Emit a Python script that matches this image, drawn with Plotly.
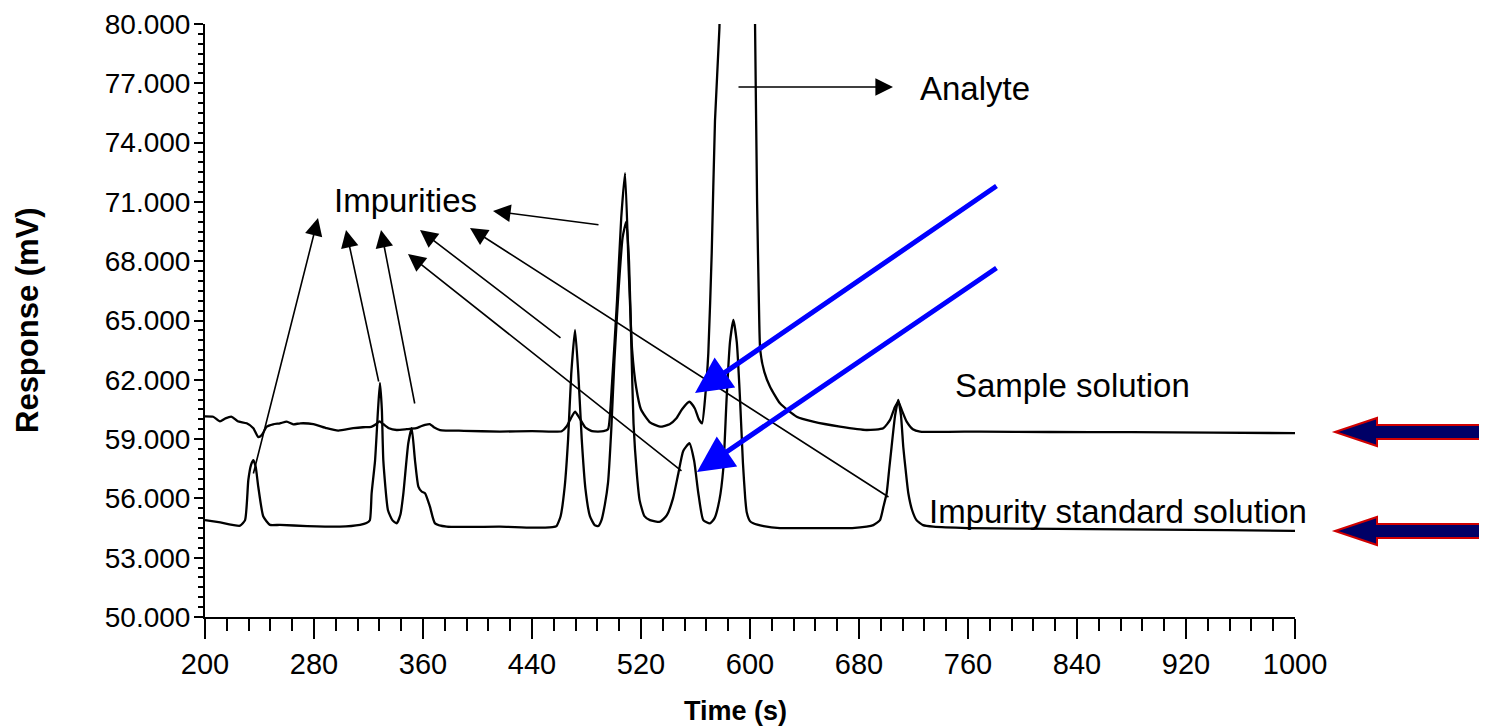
import plotly.graph_objects as go

# ---------------- data ----------------
sample_time = [200, 206, 211, 215, 219.6, 224, 230.6, 235.5, 239.1, 241.6, 245.3, 250, 255, 260, 264.8,
               270, 279.5, 289.3, 297.8, 308.8, 316, 322, 325.5, 328, 331, 335, 340.7, 348, 355, 358.5,
               361.5, 365, 368, 372.5, 390, 416.5, 440, 455, 461.8, 465.5, 468.5, 471.6, 475, 479, 484,
               488.4, 492.5, 495.8, 498.7, 502.4, 505.5, 508.3, 511, 513.5, 516.5, 520, 526.6, 534, 541,
               546, 550, 555.5, 559.5, 562.5, 564.8, 567.2, 569.4, 571.9, 574.3, 577.5, 580, 590, 600,
               603, 603.7, 605.2, 606.5, 607.5, 610.5, 614.7, 622, 634.3, 646.4, 666, 685.6, 697.8, 702.8,
               706.2, 708.8, 711.8, 715, 719.5, 724.8, 768.8, 820, 880, 940, 1000]
sample_resp = [60.15, 60.13, 59.9, 60.05, 60.13, 59.9, 59.8, 59.55, 59.1, 59.2, 59.63, 59.75, 59.8, 59.88, 59.75,
               59.8, 59.76, 59.55, 59.43, 59.55, 59.6, 59.62, 59.75, 59.9, 59.75, 59.55, 59.46, 59.5, 59.55, 59.65,
               59.72, 59.76, 59.6, 59.46, 59.42, 59.38, 59.4, 59.38, 59.4, 59.65, 60.05, 60.39, 60.05, 59.6, 59.4,
               59.38, 59.4, 59.5, 61.8, 66.0, 70.2, 72.46, 67.5, 63.5, 61.6, 60.5, 59.85, 59.63, 59.75,
               60.05, 60.5, 60.89, 60.55, 60.0, 59.8, 61.2, 63.34, 68.4, 75.1, 79.7, 86, 90, 90,
               84, 80, 71, 66, 63.5, 62.4, 61.65, 60.81, 60.13, 59.88, 59.63, 59.46, 59.55, 59.97,
               60.6, 60.9, 60.4, 59.88, 59.5, 59.38, 59.38, 59.36, 59.35, 59.33, 59.3]

impurity_time = [200, 210, 225.7, 229.4, 231.8, 233.8, 235.5, 237.2, 239.1, 242.8, 247.7, 255, 275, 299,
                 313.8, 318.5, 321, 322.3, 324.8, 327, 328.4, 329.8, 330.9, 334.3, 337.5, 340.7, 343.5,
                 345.6, 349.2, 351.7, 354.1, 356.6, 359, 361.5, 365.1, 368.8, 377.4, 416.5, 440, 455, 458,
                 461, 464, 466.5, 468.8, 471.6, 474, 476.5, 479.2, 482.5, 486, 488.7, 491, 493.5, 495.8,
                 498.2, 500.5, 503.5, 506.5, 509.2, 511.2, 513, 514.5, 517, 519, 522.5, 526.6, 534, 539,
                 543.5, 547.5, 551, 555.5, 559, 562, 565.7, 570.6, 574, 577.5, 580.4, 582.8, 585.3, 587.8,
                 590.3, 592.7, 594.8, 596.5, 597.6, 600, 602.4, 610, 622, 650, 675, 685.6, 690.5, 695.4,
                 698, 700.3, 702.2, 703.9, 706.5, 708.8, 710.8, 712.5, 714.3, 716.2, 719, 722.2, 727,
                 734.6, 760, 800, 850, 900, 950, 1000]
impurity_resp = [54.9, 54.8, 54.62, 54.9, 56.93, 57.7, 57.94, 57.6, 56.59, 55.08, 54.66, 54.66, 54.6, 54.57,
                 54.66, 54.75, 54.9, 56.26, 57.9, 60.5, 61.84, 60.5, 57.9, 55.4, 54.9, 54.74, 55.2,
                 56.26, 58.79, 59.55, 57.94, 56.6, 56.35, 56.26, 55.58, 54.74, 54.57, 54.57, 54.52, 54.55, 54.6,
                 55.1, 56.6, 59.0, 62.3, 64.52, 62.3, 59.0, 56.5, 55.1, 54.65, 54.6, 54.9, 55.7, 56.8,
                 59.5, 63.0, 66.5, 69.2, 70.0, 68.0, 63.5, 59.8, 57.2, 55.9, 55.1, 54.9, 54.82, 55.15,
                 56.0, 57.3, 58.4, 58.79, 57.9, 56.3, 54.9, 54.74, 55.0, 55.9, 57.5, 61.0, 63.9, 65.03,
                 63.9, 61.0, 57.8, 56.0, 55.3, 54.85, 54.74, 54.6, 54.5, 54.5, 54.5, 54.57, 54.65, 54.9,
                 55.6, 56.26, 57.5, 58.6, 60.2, 60.98, 60.2, 58.6, 57.4, 56.26, 55.4, 54.9, 54.65,
                 54.57, 54.5, 54.47, 54.45, 54.42, 54.4, 54.36]

x_ticks = [200, 280, 360, 440, 520, 600, 680, 760, 840, 920, 1000]
y_ticks = [50, 53, 56, 59, 62, 65, 68, 71, 74, 77, 80]

# ---------------- figure ----------------
OFF = 8                      # page body margin of the html page
SW, SH = 1487, 727           # screen size
W, H = SW - OFF, SH - OFF    # figure size
# plot area in screen pixels: x 205..1295, y 24..617
PL, PR, PT, PB = 205, 1295, 24, 617
L, R, T, B = PL - OFF, SW - PR, PT - OFF, SH - PB
FONT = "Liberation Sans, Arial, Helvetica, sans-serif"

fig = go.Figure()
fig.add_trace(go.Scatter(x=sample_time, y=sample_resp, mode="lines",
                         line=dict(color="black", width=2.3, shape="spline", smoothing=0.5),
                         showlegend=False, name="Sample solution"))
fig.add_trace(go.Scatter(x=impurity_time, y=impurity_resp, mode="lines",
                         line=dict(color="black", width=2.3, shape="spline", smoothing=0.5),
                         showlegend=False, name="Impurity standard solution"))

def px2data(px, py):
    t = 200 + (px - PL) * 800.0 / (PR - PL)
    v = 80 - (py - PT) * 30.0 / (PB - PT)
    return t, v

def px2paper(px, py):
    return (px - PL) / (PR - PL), (PB - py) / (PB - PT)

annotations = []

def text_ann(px, py, text, size=33, bold=False, angle=0):
    x, y = px2paper(px, py)
    annotations.append(dict(x=x, y=y, xref="paper", yref="paper",
                            text=f"<b>{text}</b>" if bold else text, showarrow=False,
                            textangle=angle,
                            font=dict(family=FONT, size=size, color="black"),
                            xanchor="center", yanchor="middle"))

def arrow_ann(tail, head, color="black", width=1.6, size=2.2):
    x, y = px2data(*head)
    ax, ay = px2data(*tail)
    annotations.append(dict(x=x, y=y, ax=ax, ay=ay, xref="x", yref="y", axref="x", ayref="y",
                            text="", showarrow=True, arrowhead=2, arrowsize=size,
                            arrowwidth=width, arrowcolor=color, standoff=0, startstandoff=0))

text_ann(975, 88, "Analyte")
text_ann(405, 200, "Impurities")
text_ann(1072, 386, "Sample solution")
text_ann(1118, 511, "Impurity standard solution")
text_ann(735, 711, "Time (s)", size=27, bold=True)
text_ann(27, 320, "Response (mV)", size=31, bold=True, angle=-90)

arrow_ann((737, 87), (893, 87))
arrow_ann((600, 225), (493, 211))
arrow_ann((253, 475), (318, 218))
arrow_ann((379, 383), (346, 230))
arrow_ann((415, 405), (381, 230))
arrow_ann((562, 339), (420, 230))
arrow_ann((683, 472), (408, 254))
arrow_ann((890, 498), (470, 228))

arrow_ann((998, 185), (695, 393), color="#0000ff", width=5, size=1.45)
arrow_ann((998, 267), (697, 472), color="#0000ff", width=5, size=1.45)

shapes = []
for yc in (432, 531):
    pts = [(1335, yc), (1377, yc - 14), (1377, yc - 7), (1490, yc - 7),
           (1490, yc + 7), (1377, yc + 7), (1377, yc + 14)]
    pp = [px2paper(*p) for p in pts]
    path = "M " + " L ".join(f"{a:.5f},{b:.5f}" for a, b in pp) + " Z"
    shapes.append(dict(type="path", path=path, xref="paper", yref="paper",
                       fillcolor="#000066", line=dict(color="#d00000", width=2), layer="above"))

fig.update_layout(
    width=W, height=H,
    margin=dict(l=L, r=R, t=T, b=B, autoexpand=False),
    paper_bgcolor="white", plot_bgcolor="white",
    font=dict(family=FONT, color="black"),
    annotations=annotations, shapes=shapes,
    xaxis=dict(range=[200, 1000], tickmode="array", tickvals=x_ticks,
               ticktext=[str(v) for v in x_ticks],
               ticks="outside", ticklen=20, tickwidth=2, tickcolor="black",
               showline=True, linecolor="black", linewidth=2, showgrid=False, zeroline=False,
               tickfont=dict(family=FONT, size=29, color="black"),
               ticklabeloverflow="allow",
               minor=dict(dtick=16, tick0=200, ticks="outside", ticklen=12, tickwidth=1.5,
                          tickcolor="black", showgrid=False),
               automargin=False),
    yaxis=dict(range=[50, 80], tickmode="array", tickvals=y_ticks,
               ticktext=[f"{v:.3f}" for v in y_ticks],
               ticks="outside", ticklen=9, tickwidth=2, tickcolor="black",
               showline=True, linecolor="black", linewidth=2, showgrid=False, zeroline=False,
               tickfont=dict(family=FONT, size=28, color="black"),
               ticklabeloverflow="allow", ticklabelstandoff=-2,
               minor=dict(dtick=0.5, tick0=50, ticks="outside", ticklen=5, tickwidth=1.5,
                          tickcolor="black", showgrid=False),
               automargin=False),
)

fig.write_html("out.html")
